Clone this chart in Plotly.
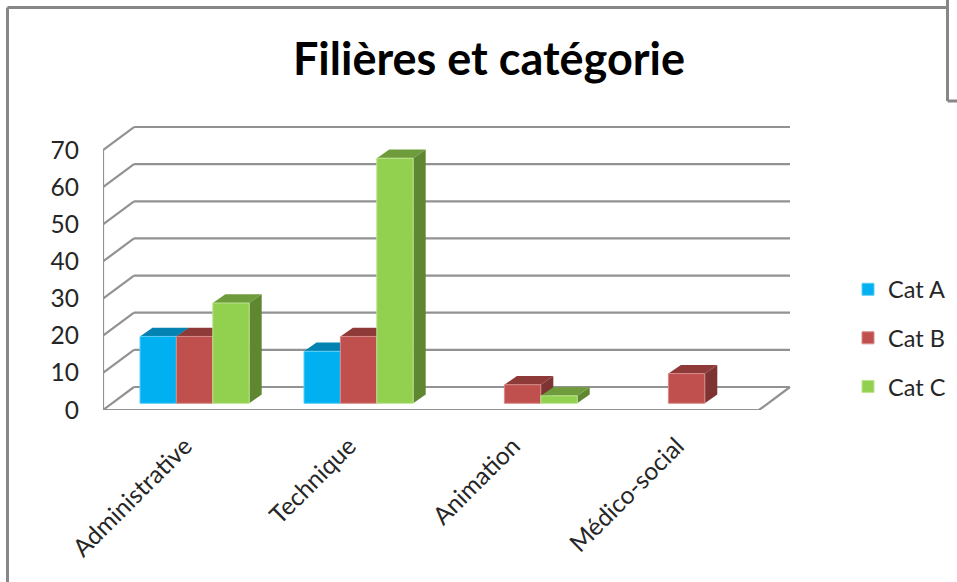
import plotly.graph_objects as go

# ---- data ----
categories = ["Administrative", "Technique", "Animation", "Médico-social"]
cat_a = [18, 14, None, None]
cat_b = [18, 18, 5, 8]
cat_c = [27, 66, 2, None]
series_names = ["Cat A", "Cat B", "Cat C"]
y_ticks = [0, 10, 20, 30, 40, 50, 60, 70]
title_text = "Filières et catégorie"

# ---- styles ----
front_colors = ["#00B0F0", "#C0504D", "#92D050"]
edge_colors = ["#5CCDF5", "#D58B89", "#BCE38F"]
top_colors = ["#0483B3", "#8E3A38", "#6E9C3C"]
side_colors = ["#0A7FAB", "#7D3432", "#5F8731"]
GRID = "#929292"
FRAME = "#878787"
FONT = "Lato"
W, H = 957, 582

# pixel layout of the plot area and scales
L, R, T, B = 103, 957, 120, 410
PX_PER_CAT = 164.0
PX_PER_UNIT = 3.714
x_lo = -0.5
x_hi = x_lo + (R - L) / PX_PER_CAT
y_hi = (B - T) / PX_PER_UNIT

# 3-D projection offsets, in axis units
wall_dx, wall_dy = 31 / PX_PER_CAT, 23 / PX_PER_UNIT
bar_dx, bar_dy = 12.5 / PX_PER_CAT, 8.7 / PX_PER_UNIT
bar_base = 6.7 / PX_PER_UNIT
bar_w = 36.4 / PX_PER_CAT
bar_start = 37 / PX_PER_CAT - 0.5

positions = list(range(len(categories)))
front_right = x_lo + len(categories)

shapes = []


def poly(points, fill, line=None, width=0):
    d = "M " + " L ".join(f"{x},{y}" for x, y in points) + " Z"
    shapes.append(dict(type="path", path=d, xref="x", yref="y", layer="below",
                       fillcolor=fill, line=dict(color=line or fill, width=width)))


def seg(x0, y0, x1, y1):
    shapes.append(dict(type="line", x0=x0, y0=y0, x1=x1, y1=y1, xref="x", yref="y",
                       layer="below", line=dict(color=GRID, width=2.2)))


# walls and gridlines
for t in y_ticks:
    seg(x_lo, t, x_lo + wall_dx, t + wall_dy)
    seg(x_lo + wall_dx, t + wall_dy, front_right + wall_dx, t + wall_dy)
seg(x_lo, 0, x_lo, y_ticks[-1])
seg(x_lo, 0, front_right, 0)
seg(front_right, 0, front_right + wall_dx, wall_dy)

# bar tops and sides, from the values
for k, values in enumerate([cat_a, cat_b, cat_c]):
    for p, v in zip(positions, values):
        if v is None:
            continue
        x0 = p + bar_start + k * bar_w
        x1 = x0 + bar_w
        y0 = bar_base
        y1 = bar_base + v
        poly([(x1, y0), (x1 + bar_dx, y0 + bar_dy), (x1 + bar_dx, y1 + bar_dy), (x1, y1)],
             side_colors[k])
        poly([(x0, y1), (x0 + bar_dx, y1 + bar_dy), (x1 + bar_dx, y1 + bar_dy), (x1, y1)],
             top_colors[k])

fig = go.Figure()
for k, (name, values) in enumerate(zip(series_names, [cat_a, cat_b, cat_c])):
    fig.add_trace(go.Bar(
        x=positions, y=values, name=name, base=bar_base, width=bar_w,
        offset=bar_start + k * bar_w, legendgroup=name,
        marker=dict(color=front_colors[k], line=dict(color=edge_colors[k], width=1)),
    ))


def px(x):
    return (x - L) / (R - L)


def py(y):
    return (B - y) / (B - T)


# outer frame of the chart and the neighbouring box corner
for x0, y0, x1, y1 in [(7.5, 7.5, 7.5, 582), (7.5, 7.5, 947, 7.5),
                       (947.5, 0, 947.5, 101), (947.5, 101, 957, 101)]:
    shapes.append(dict(type="line", xref="paper", yref="paper", layer="above",
                       x0=px(x0), y0=py(y0), x1=px(x1), y1=py(y1),
                       line=dict(color=FRAME, width=3)))

fig.update_layout(
    width=W, height=H,
    autosize=False,
    margin=dict(l=L, r=W - R, t=T, b=H - B, pad=0),
    paper_bgcolor="white", plot_bgcolor="white",
    barmode="overlay",
    shapes=shapes,
    showlegend=True,
    title=dict(text=title_text, x=489 / W, xanchor="center", y=1 - 59 / H, yanchor="middle",
               font=dict(family=FONT, size=45, color="#000000", weight=700)),
    legend=dict(x=px(848), xanchor="left", y=py(267.5), yanchor="top",
                font=dict(family=FONT, size=23.5, color="#262626"),
                tracegroupgap=15, itemclick=False, bgcolor="rgba(0,0,0,0)"),
    xaxis=dict(range=[x_lo, x_hi], tickmode="array", tickvals=positions, ticktext=categories,
               tickangle=-45, showgrid=False, zeroline=False, showline=False, ticks="",
               ticklabelshift=0, ticklabelstandoff=16,
               tickfont=dict(family=FONT, size=24.5, color="#262626")),
    yaxis=dict(range=[0, y_hi], tickmode="array", tickvals=y_ticks, showgrid=False, zeroline=False,
               showline=False, ticks="", ticklabelstandoff=23,
               tickfont=dict(family=FONT, size=24.5, color="#262626")),
)
fig.write_html("out.html", config=dict(displayModeBar=False),
               post_script="document.documentElement.style.overflow='hidden';document.body.style.margin='0';")
